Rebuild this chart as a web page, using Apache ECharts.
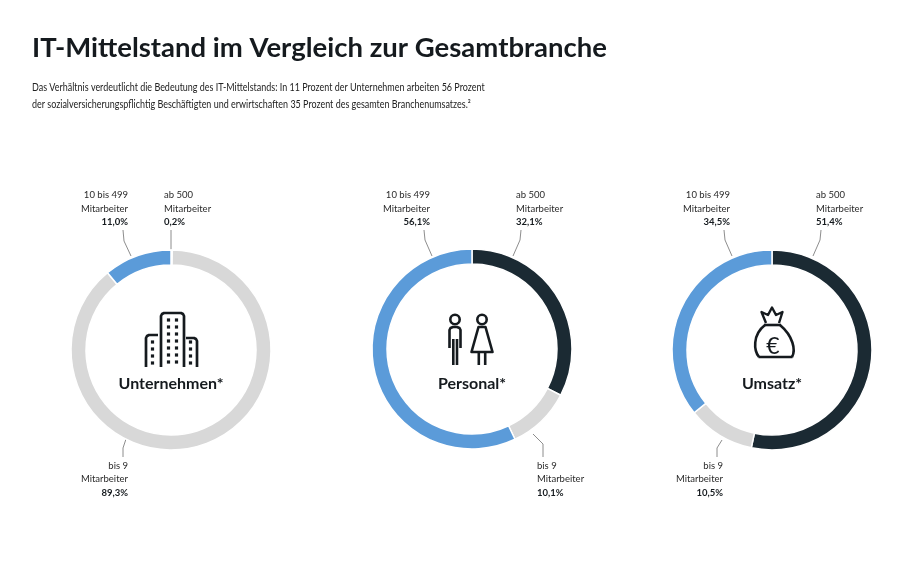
<!DOCTYPE html>
<html>
<head>
<meta charset="utf-8">
<script src="https://cdn.jsdelivr.net/npm/echarts@6/dist/echarts.min.js"></script>
<style>
html,body{margin:0;padding:0;background:#fff}
#main{width:900px;height:563px}
</style>
</head>
<body>
<div id="main"></div>
<script>
// Daten
var groups = ['Unternehmen*', 'Personal*', 'Umsatz*']
var segNames = ['ab 500', 'bis 9', '10 bis 499']
var unternehmen = [0.2, 89.3, 11.0]
var personal = [32.1, 10.1, 56.1]
var umsatz = [51.4, 10.5, 34.5]
var intro = [
  'Das Verhältnis verdeutlicht die Bedeutung des IT-Mittelstands: In 11 Prozent der Unternehmen arbeiten 56 Prozent',
  'der sozialversicherungspflichtig Beschäftigten und erwirtschaften 35 Prozent des gesamten Branchenumsatzes.²'
]

var FONT = 'Lato, "Open Sans", sans-serif'
var INK = '#151a1e'
var centers = [[171, 350], [472, 349], [772, 350]]
var palettes = [
  ['#1b2a33', '#d8d8d8', '#5b9bd9'],
  ['#1b2a33', '#e8e8ec', '#5b9bd9'],
  ['#1b2a33', '#e8e8ec', '#5b9bd9']
]
// Label-Positionen (Layout) je Diagramm: [ab 500, bis 9, 10 bis 499]
var spots = [
  [
    {x: 164, y: 229, align: 'left', va: 'bottom', line: [[171, 251], [171, 241], [171, 230]]},
    {x: 128, y: 459, align: 'right', va: 'top', line: [[126, 439], [123, 448], [123, 457]]},
    {x: 128, y: 229, align: 'right', va: 'bottom', line: [[131, 256], [124, 241], [123, 230]]}
  ],
  [
    {x: 516, y: 229, align: 'left', va: 'bottom', line: [[513, 256], [520, 240], [521, 230]]},
    {x: 537, y: 459, align: 'left', va: 'top', line: [[533, 434], [543, 444], [543, 457]]},
    {x: 430, y: 229, align: 'right', va: 'bottom', line: [[432, 256], [425, 240], [424, 230]]}
  ],
  [
    {x: 816, y: 229, align: 'left', va: 'bottom', line: [[813, 256], [820, 240], [821, 230]]},
    {x: 723, y: 459, align: 'right', va: 'top', line: [[722, 440], [717, 448], [717, 457]]},
    {x: 730, y: 229, align: 'right', va: 'bottom', line: [[732, 256], [725, 240], [724, 230]]}
  ]
]

var fmt = function (v) {
  return v.toFixed(1).replace('.', ',') + '%'
}

var makeSeries = function (vals, idx) {
  return {
    type: 'pie',
    silent: true,
    radius: [85, 100],
    center: centers[idx],
    startAngle: 90,
    clockwise: true,
    avoidLabelOverlap: false,
    color: palettes[idx],
    itemStyle: {borderColor: '#fff', borderWidth: 1.5},
    label: {
      show: true,
      position: 'outside',
      formatter: function (p) {
        return '{a|' + p.name + '}\n{a|Mitarbeiter}\n{b|' + fmt(p.value) + '}'
      },
      rich: {
        a: {fontFamily: FONT, fontSize: 9.5, lineHeight: 13.5, color: '#2a2a2a'},
        b: {fontFamily: FONT, fontSize: 9.5, lineHeight: 13.5, color: INK, fontWeight: 'bold'}
      }
    },
    labelLine: {show: true, lineStyle: {color: '#808080', width: 0.9}},
    labelLayout: function (p) {
      var s = spots[idx][p.dataIndex]
      return {x: s.x, y: s.y, align: s.align, verticalAlign: s.va, labelLinePoints: s.line}
    },
    data: vals.map(function (v, i) {
      return {name: segNames[i], value: v}
    })
  }
}

// Icons
var st = function (w) {
  return {stroke: INK, lineWidth: w || 2.7, fill: null, lineJoin: 'round'}
}
var icons = []
var pl = function (pts, w) {
  icons.push({type: 'polyline', shape: {points: pts}, style: st(w)})
}
var pg = function (pts, w) {
  icons.push({type: 'polygon', shape: {points: pts}, style: st(w)})
}
var bz = function (x1, y1, c1x, c1y, c2x, c2y, x2, y2, w) {
  icons.push({type: 'bezierCurve', shape: {x1: x1, y1: y1, cpx1: c1x, cpy1: c1y, cpx2: c2x, cpy2: c2y, x2: x2, y2: y2}, style: st(w)})
}
// Gebaeude
pl([[161, 367], [161, 316], [162, 314], [164, 313], [181, 313], [183, 314], [184, 316], [184, 367]])
pl([[146, 367], [146, 338], [147, 336], [149, 335], [158, 335]])
pl([[186, 338], [194, 338], [196, 339], [197, 341], [197, 367]])
var win = function (x, y) {
  icons.push({type: 'rect', shape: {x: x - 1.6, y: y - 1.6, width: 3.2, height: 3.2}, style: {fill: INK}})
}
;[320, 327, 334, 341, 348, 355, 362].forEach(function (y) { win(168.5, y); win(176.5, y) })
;[342, 349, 356, 363].forEach(function (y) { win(152.5, y); win(190.5, y) })
// Personen
icons.push({type: 'circle', shape: {cx: 455, cy: 319.5, r: 4.7}, style: st(2.6)})
icons.push({type: 'circle', shape: {cx: 482, cy: 319.5, r: 4.7}, style: st(2.6)})
pl([[449.5, 348], [449.5, 330], [450.5, 328], [453, 327], [457, 327], [459.5, 328], [460.5, 330], [460.5, 348]], 2.6)
pl([[453.3, 339], [453.3, 365]], 2.6)
pl([[457, 339], [457, 365]], 2.6)
pg([[478.5, 327], [485.5, 327], [492.5, 352], [471.5, 352]], 2.6)
pl([[478.8, 352], [478.8, 365]], 2.6)
pl([[485.2, 352], [485.2, 365]], 2.6)
// Geldsack
bz(765, 325, 752, 335, 754, 351, 759, 357, 2.6)
bz(780, 325, 793, 336, 796, 350, 792, 357, 2.6)
pl([[758.5, 357], [792.5, 357]], 2.6)
pl([[764, 325], [781, 325]], 2.6)
pl([[766, 323], [761.5, 312], [768, 315], [772, 307.5], [776, 315], [782.5, 312], [779, 323]], 2.4)
icons.push({type: 'text', style: {text: '€', x: 773, y: 346.5, align: 'center', verticalAlign: 'middle',
  font: 'normal 23px ' + FONT, fill: INK}})

groups.forEach(function (g, i) {
  icons.push({type: 'text', style: {text: g, x: centers[i][0], y: 384, align: 'center', verticalAlign: 'middle',
    font: 'bold 16px ' + FONT, fill: INK}})
})

// Einleitungstext, schmal gesetzt
intro.forEach(function (t, i) {
  icons.push({type: 'text', x: 32, y: 87 + i * 17.5, scaleX: 0.78,
    style: {text: t, x: 0, y: 0, align: 'left', verticalAlign: 'middle', font: 'normal 11.5px ' + FONT, fill: '#222'}})
})

var chart = echarts.init(document.getElementById('main'))
chart.setOption({
  backgroundColor: '#fff',
  animation: false,
  title: {
    text: 'IT-Mittelstand im Vergleich zur Gesamtbranche',
    left: 32, top: 34, padding: 0,
    textStyle: {fontFamily: FONT, fontSize: 27.5, fontWeight: 'bold', color: INK}
  },
  graphic: icons,
  series: [
    makeSeries(unternehmen, 0),
    makeSeries(personal, 1),
    makeSeries(umsatz, 2)
  ]
})
</script>
</body>
</html>
